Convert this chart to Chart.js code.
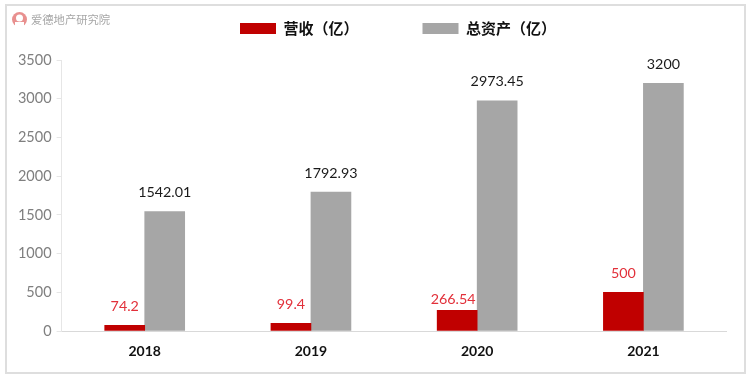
<!DOCTYPE html>
<html>
<head>
<meta charset="utf-8">
<script src="https://cdn.jsdelivr.net/npm/chart.js@4/dist/chart.umd.js"></script>
<style>
  html, body { margin: 0; padding: 0; background: #fff; }
  #marco { position: absolute; left: 5px; top: 4px; width: 737px; height: 366px; border: 2px solid #dedede; }
  #myChart { position: absolute; left: 0; top: 0; }
</style>
</head>
<body>
<div id="marco"></div>
<canvas id="myChart" width="751" height="378"></canvas>
<script>
const anios = ['2018', '2019', '2020', '2021'];
const ingresos = [74.2, 99.4, 266.54, 500];
const activos = [1542.01, 1792.93, 2973.45, 3200];
const etiquetasIngresos = ['74.2', '99.4', '266.54', '500'];
const etiquetasActivos = ['1542.01', '1792.93', '2973.45', '3200'];
const nombreMarca = '爱德地产研究院';

// Etiquetas encima de cada barra
const etiquetasBarras = {
    id: 'etiquetasBarras',
    afterDatasetsDraw(chart) {
        const ctx = chart.ctx;
        ctx.save();
        ctx.font = '14.3px Lato';
        ctx.textAlign = 'center';
        ctx.textBaseline = 'middle';
        chart.getDatasetMeta(0).data.forEach((barra, i) => {
            ctx.fillStyle = '#e2303a';
            // la de 2020 esta mas pegada a la barra en el original
            const pegada = i === 2;
            ctx.fillText(etiquetasIngresos[i], barra.x - (pegada ? 4 : 0), barra.y - (pegada ? 11 : 19));
        });
        chart.getDatasetMeta(1).data.forEach((barra, i) => {
            ctx.fillStyle = '#1a1a1a';
            ctx.fillText(etiquetasActivos[i], barra.x, barra.y - 19);
        });
        ctx.restore();
    }
};

// Marca de agua arriba a la izquierda
const marca = {
    id: 'marca',
    afterDraw(chart) {
        const ctx = chart.ctx;
        ctx.save();
        ctx.fillStyle = '#e8908f';
        ctx.beginPath();
        ctx.arc(19.5, 19.5, 7.5, 0, Math.PI * 2);
        ctx.fill();
        ctx.fillStyle = '#fff';
        ctx.beginPath();
        ctx.arc(19.5, 18, 3.5, 0, Math.PI * 2);
        ctx.fill();
        ctx.fillRect(15, 22, 9, 5);
        ctx.fillStyle = '#a6a6a6';
        ctx.font = '11.3px "Noto Sans CJK SC"';
        ctx.textBaseline = 'middle';
        ctx.fillText(nombreMarca, 31, 19.5);
        ctx.restore();
    }
};

// Coloca la leyenda donde va en el original
const moverLeyenda = {
    id: 'moverLeyenda',
    afterLayout(chart) {
        const leyenda = chart.legend;
        leyenda.top = 28.5 - 7.5 - leyenda.options.labels.padding;
        leyenda.left = 240 - leyenda.options.labels.padding;
        leyenda.right = 751;
    }
};

const chart = new Chart(document.getElementById('myChart').getContext('2d'), {
    type: 'bar',
    data: {
        labels: anios,
        datasets: [
            { label: '营收（亿）', data: ingresos, backgroundColor: '#C00000', barThickness: 40 },
            { label: '总资产（亿）', data: activos, backgroundColor: '#A6A6A6', barThickness: 40 }
        ]
    },
    options: {
        responsive: false,
        animation: false,
        layout: { padding: { left: 0, right: 24.5, top: 0, bottom: 0 } },
        plugins: {
            tooltip: { enabled: false },
            legend: {
                position: 'top',
                align: 'start',
                maxHeight: 60,
                labels: {
                    boxWidth: 36,
                    boxHeight: 11,
                    padding: 64,
                    color: '#111',
                    font: { family: '"Noto Sans CJK SC"', size: 15, weight: 'bold' }
                }
            }
        },
        scales: {
            x: {
                afterFit: (escala) => { escala.height = 47; },
                grid: { display: false },
                border: { color: '#d9d9d9', width: 1 },
                ticks: { color: '#111', padding: 4, maxRotation: 0, font: { family: 'Lato', size: 14, weight: 'bold' } }
            },
            y: {
                min: 0,
                max: 3500,
                afterFit: (escala) => { escala.width = 61.6; },
                grid: { drawOnChartArea: false, color: '#e6e6e6', tickLength: 5 },
                border: { color: '#e6e6e6', width: 1 },
                ticks: { stepSize: 500, color: '#7f7f7f', padding: 5, callback: (valor) => String(valor), font: { family: 'Lato', size: 14.5 } }
            }
        }
    },
    plugins: [moverLeyenda, etiquetasBarras, marca]
});
</script>
</body>
</html>
